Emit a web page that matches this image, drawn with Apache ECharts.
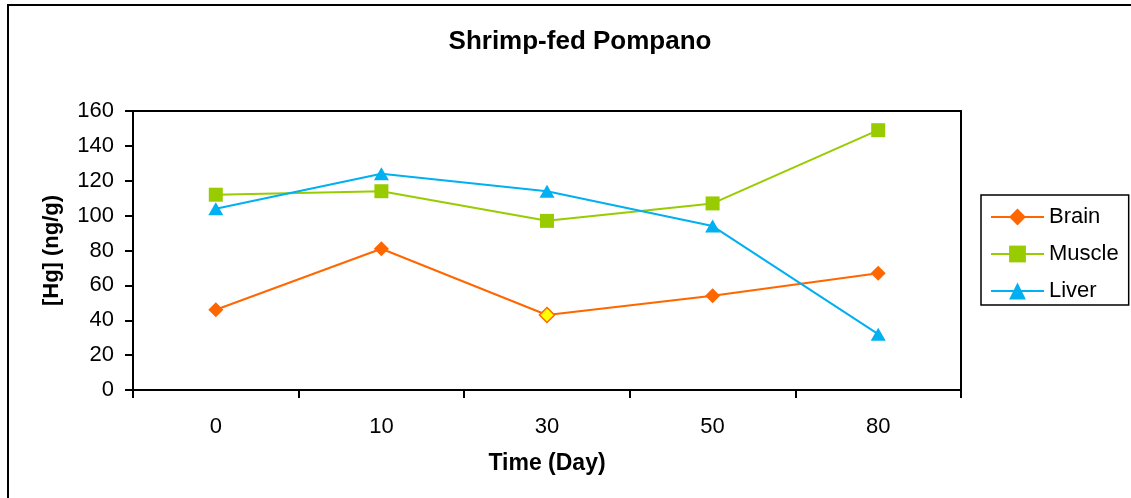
<!DOCTYPE html>
<html>
<head>
<meta charset="utf-8">
<script src="https://cdn.jsdelivr.net/npm/echarts@6/dist/echarts.min.js"></script>
<style>
  html, body { margin: 0; padding: 0; background: #fff; }
  #chart { width: 1131px; height: 498px; }
</style>
</head>
<body>
<div id="chart"></div>
<script>
// Mercury concentration by tissue over the feeding period
const days = ['0', '10', '30', '50', '80'];
const brain = [46, 81, 43, 54, 67];
const muscle = [112, 114, 97, 107, 149];
const liver = [104, 124, 114, 94, 32];
// the day-30 brain sample is drawn highlighted
const highlightIndex = 2;

const FONT = '"Liberation Sans", Arial, sans-serif';
const chart = echarts.init(document.getElementById('chart'));

const brainData = brain.map((v, i) => i === highlightIndex
  ? { value: v, itemStyle: { color: '#FFFF00', borderColor: '#FF6600', borderWidth: 1.5 } }
  : v);

chart.setOption({
  animation: false,
  backgroundColor: '#ffffff',
  textStyle: { fontFamily: FONT, color: '#000' },
  graphic: [{
    type: 'rect',
    silent: true,
    shape: { x: 8, y: 5, width: 1200, height: 600 },
    style: { fill: 'none', stroke: '#000', lineWidth: 2 }
  }],
  title: {
    text: 'Shrimp-fed Pompano',
    left: 575,
    textAlign: 'center',
    top: 24,
    textStyle: { fontFamily: FONT, fontWeight: 'bold', fontSize: 26, color: '#000' }
  },
  legend: {
    orient: 'vertical',
    left: 981,
    top: 195,
    padding: [11, 10, 3, 9],
    itemWidth: 53,
    itemHeight: 21,
    itemGap: 15,
    borderColor: '#000',
    borderWidth: 1.5,
    textStyle: { fontFamily: FONT, fontSize: 22, color: '#000' },
    data: ['Brain', 'Muscle', 'Liver']
  },
  grid: {
    left: 133, right: 170, top: 111, bottom: 108,
    show: true, borderColor: '#000', borderWidth: 2
  },
  xAxis: {
    type: 'category',
    data: days,
    boundaryGap: true,
    name: 'Time (Day)',
    nameLocation: 'middle',
    nameGap: 62,
    nameTextStyle: { fontFamily: FONT, fontWeight: 'bold', fontSize: 23, color: '#000' },
    axisLine: { lineStyle: { color: '#000', width: 2 } },
    axisTick: { show: true, alignWithLabel: false, length: 8, lineStyle: { color: '#000', width: 2 } },
    axisLabel: { fontFamily: FONT, fontSize: 22, color: '#000', margin: 26 },
    splitLine: { show: false }
  },
  yAxis: {
    type: 'value',
    min: 0, max: 160, interval: 20,
    name: '[Hg] (ng/g)',
    nameLocation: 'middle',
    nameGap: 70,
    nameTextStyle: { fontFamily: FONT, fontWeight: 'bold', fontSize: 22, color: '#000' },
    axisLine: { show: true, lineStyle: { color: '#000', width: 2 } },
    axisTick: { show: true, length: 8, lineStyle: { color: '#000', width: 2 } },
    axisLabel: { fontFamily: FONT, fontSize: 22, color: '#000', margin: 19 },
    splitLine: { show: false }
  },
  series: [
    {
      name: 'Brain', type: 'line', data: brainData,
      symbol: 'diamond', symbolSize: 15,
      itemStyle: { color: '#FF6600' },
      lineStyle: { color: '#FF6600', width: 2 }
    },
    {
      name: 'Muscle', type: 'line', data: muscle,
      symbol: 'rect', symbolSize: 14,
      itemStyle: { color: '#99CC00' },
      lineStyle: { color: '#99CC00', width: 2 }
    },
    {
      name: 'Liver', type: 'line', data: liver,
      symbol: 'triangle', symbolSize: [15, 13],
      itemStyle: { color: '#00B0F0' },
      lineStyle: { color: '#00B0F0', width: 2 }
    }
  ]
});
</script>
</body>
</html>
